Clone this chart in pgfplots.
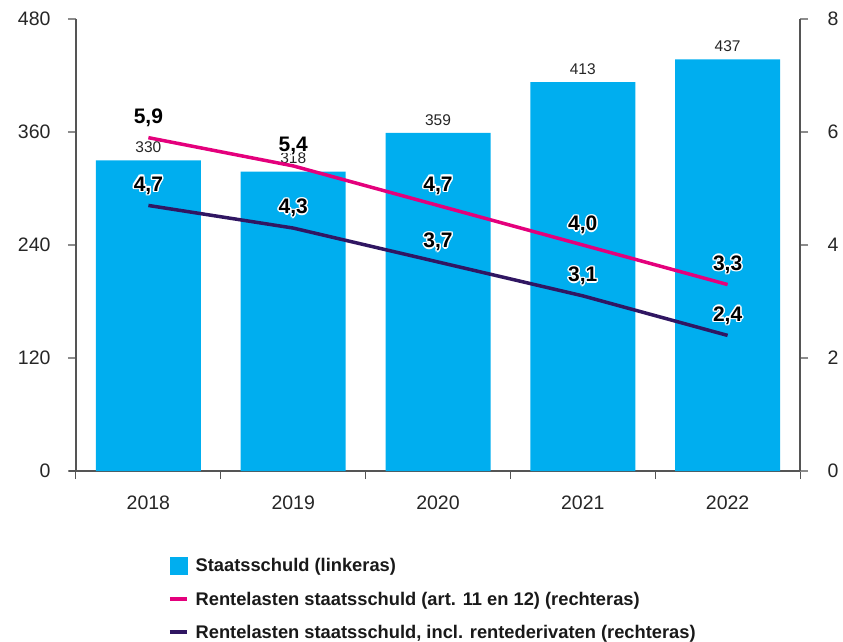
\documentclass[border=0pt]{standalone}
\usepackage{pgfplots}
\pgfplotsset{compat=1.18}
\usepackage{fontspec}
\setmainfont{Liberation Sans}

\definecolor{barblue}{RGB}{0,174,239}
\definecolor{lnpink}{RGB}{228,0,124}
\definecolor{lnpurple}{RGB}{48,22,98}
\definecolor{axgray}{RGB}{85,85,85}
\definecolor{tickgray}{RGB}{140,140,140}

% white halo round a label: eight white copies, then the black text
\newcommand\hc[3]{\makebox[0pt][l]{\hspace*{#1}\raisebox{#2}{\color{white}#3}}}
\newcommand\halo[1]{%
  \hc{1.5pt}{0pt}{#1}\hc{-1.5pt}{0pt}{#1}\hc{0pt}{1.5pt}{#1}\hc{0pt}{-1.5pt}{#1}%
  \hc{1.1pt}{1.1pt}{#1}\hc{-1.1pt}{1.1pt}{#1}\hc{1.1pt}{-1.1pt}{#1}\hc{-1.1pt}{-1.1pt}{#1}%
  #1}

\pgfplotsset{
  common/.style={
    scale only axis, width=724pt, height=452pt,
    at={(0,0)}, anchor=south west,
    xmin=-0.5, xmax=4.5,
    tick align=outside,
    major tick length=8pt,
    ticklabel style={font=\fontsize{19.5}{22}\selectfont, text=black!85},
    /pgf/number format/use comma,
    /pgf/number format/1000 sep={},
    /pgf/number format/assume math mode=true,
  },
}

\begin{document}
\begin{tikzpicture}
\path[use as bounding box] (-76pt,-170pt) rectangle (767pt,471pt);

% bars, left axis
\begin{axis}[
  common,
  ybar, bar width=105pt,
  ymin=0, ymax=480, ytick={0,120,...,480},
  axis x line*=bottom, axis y line*=left,
  x axis line style={draw=axgray, line width=2pt, shorten <=-7pt, shorten >=-7pt},
  y axis line style={draw=axgray, line width=1.2pt},
  ytick style={draw=tickgray, line width=1.8pt},
  xtick={0,1,2,3,4},
  xticklabels={2018,2019,2020,2021,2022},
  xtick style={draw=none},
  xticklabel style={yshift=-13pt},
  yticklabel style={xshift=-14pt},
  extra x ticks={-0.5,0.5,1.5,2.5,3.5,4.5},
  extra x tick labels={},
  extra x tick style={xtick style={draw=axgray, line width=1pt}},
  nodes near coords,
  every node near coord/.append style={anchor=center, yshift=13pt,
    font=\fontsize{15.5}{17}\selectfont, text=black!85},
]
\addplot[fill=barblue, draw=none] coordinates {
  (0,330) (1,318) (2,359) (3,413) (4,437)
};
\end{axis}

% lines, right axis
\begin{axis}[
  common,
  ymin=0, ymax=8, ytick={0,2,...,8},
  hide x axis,
  axis y line*=right,
  y axis line style={draw=axgray, line width=1.2pt},
  ytick style={draw=tickgray, line width=1.8pt},
  yticklabel style={xshift=16pt},
  nodes near coords={\halo{\pgfmathprintnumber[fixed, fixed zerofill, precision=1, use comma, assume math mode=true]{\pgfplotspointmeta}}},
  every node near coord/.append style={anchor=center, yshift=20pt,
    font=\bfseries\fontsize{21}{23}\selectfont, text=black},
  legend style={at={(0.127,-0.190)}, anchor=north west, draw=none, fill=none,
    font=\bfseries\fontsize{18.3}{20}\selectfont, text=black!90,
    row sep=16.3pt, inner sep=0pt,
    nodes={inner sep=1pt},
    /tikz/every odd column/.append style={column sep=6pt}},
  legend cell align=left,
]
\addlegendimage{legend image code/.code={\fill[barblue] (0pt,-8.5pt) rectangle (17pt,8.5pt);}}
\addlegendentry{Staatsschuld (linkeras)}
\addplot[lnpink, line width=3.5pt,
  legend image code/.code={\draw[lnpink, line width=3.5pt] (0pt,0pt) -- (17pt,0pt);}]
  coordinates {(0,5.9) (1,5.4) (2,4.7) (3,4.0) (4,3.3)};
\addlegendentry{Rentelasten staatsschuld (art. 11 en 12) (rechteras)}
\addplot[lnpurple, line width=3.5pt,
  legend image code/.code={\draw[lnpurple, line width=3.5pt] (0pt,0pt) -- (17pt,0pt);}]
  coordinates {(0,4.7) (1,4.3) (2,3.7) (3,3.1) (4,2.4)};
\addlegendentry{Rentelasten staatsschuld, incl. rentederivaten (rechteras)}
\end{axis}
\end{tikzpicture}
\end{document}
